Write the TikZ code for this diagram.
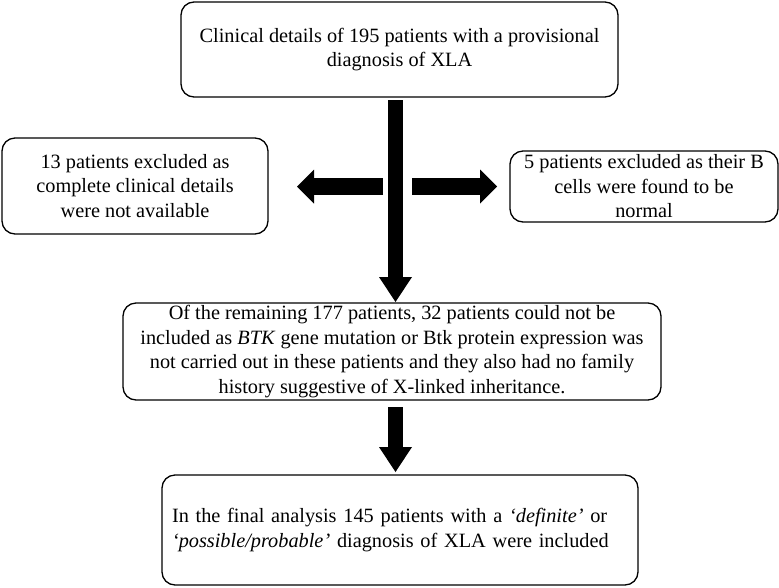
\documentclass[tikz,border=0pt]{standalone}
\usepackage{fontspec}
\setmainfont{Liberation Serif}
\usetikzlibrary{arrows.meta}
\begin{document}
\begin{tikzpicture}[x=1pt,y=-1pt,
  box/.style={draw, line width=1.3pt, rounded corners=13pt, inner sep=0pt,
    align=center, font=\fontsize{20.3}{24.5}\selectfont},
  harrow/.style={line width=17pt, -{Triangle[length=17pt,width=34pt,line width=0pt]}},
  varrow/.style={line width=15pt, -{Triangle[length=25pt,width=33pt,line width=0pt]}},
]
\useasboundingbox (0,0) rectangle (779,587);
\node[box, minimum width=437pt, minimum height=95pt] (top) at (399.5,49.5)
  {Clinical details of 195 patients with a provisional\\diagnosis of XLA};
\node[box, minimum width=266pt, minimum height=96pt] (left) at (135,186)
  {13 patients excluded as\\complete clinical details\\were not available};
\node[box, minimum width=268pt, minimum height=71pt] (right) at (644,186.5)
  {5 patients excluded as their B\\cells were found to be\\normal};
\node[box, minimum width=538pt, minimum height=97pt] (mid) at (392,351.5)
  {Of the remaining 177 patients, 32 patients could not be\\
   included as \textit{BTK} gene mutation or Btk protein expression was\\
   not carried out in these patients and they also had no family\\
   history suggestive of X-linked inheritance.};
\node[box, minimum width=476pt, minimum height=110pt, text width=456pt, align=left] (bot) at (400,530)
  {In the final analysis 145 patients with a \textit{‘definite’} or\\
   \textit{‘possible/probable’} diagnosis of XLA were included};
% vertical arrows
\coordinate (s1) at (395.5,100);
\coordinate (t1) at (395.5,302);
\draw[varrow] (s1) -- (t1);
\coordinate (s2) at (395.5,407);
\coordinate (t2) at (395.5,472);
\draw[varrow] (s2) -- (t2);
% horizontal arrows
\coordinate (ls) at (383,186.5);
\coordinate (lt) at (297,186.5);
\draw[harrow] (ls) -- (lt);
\coordinate (rs) at (412,186.5);
\coordinate (rt) at (497,186.5);
\draw[harrow] (rs) -- (rt);
\end{tikzpicture}
\end{document}
